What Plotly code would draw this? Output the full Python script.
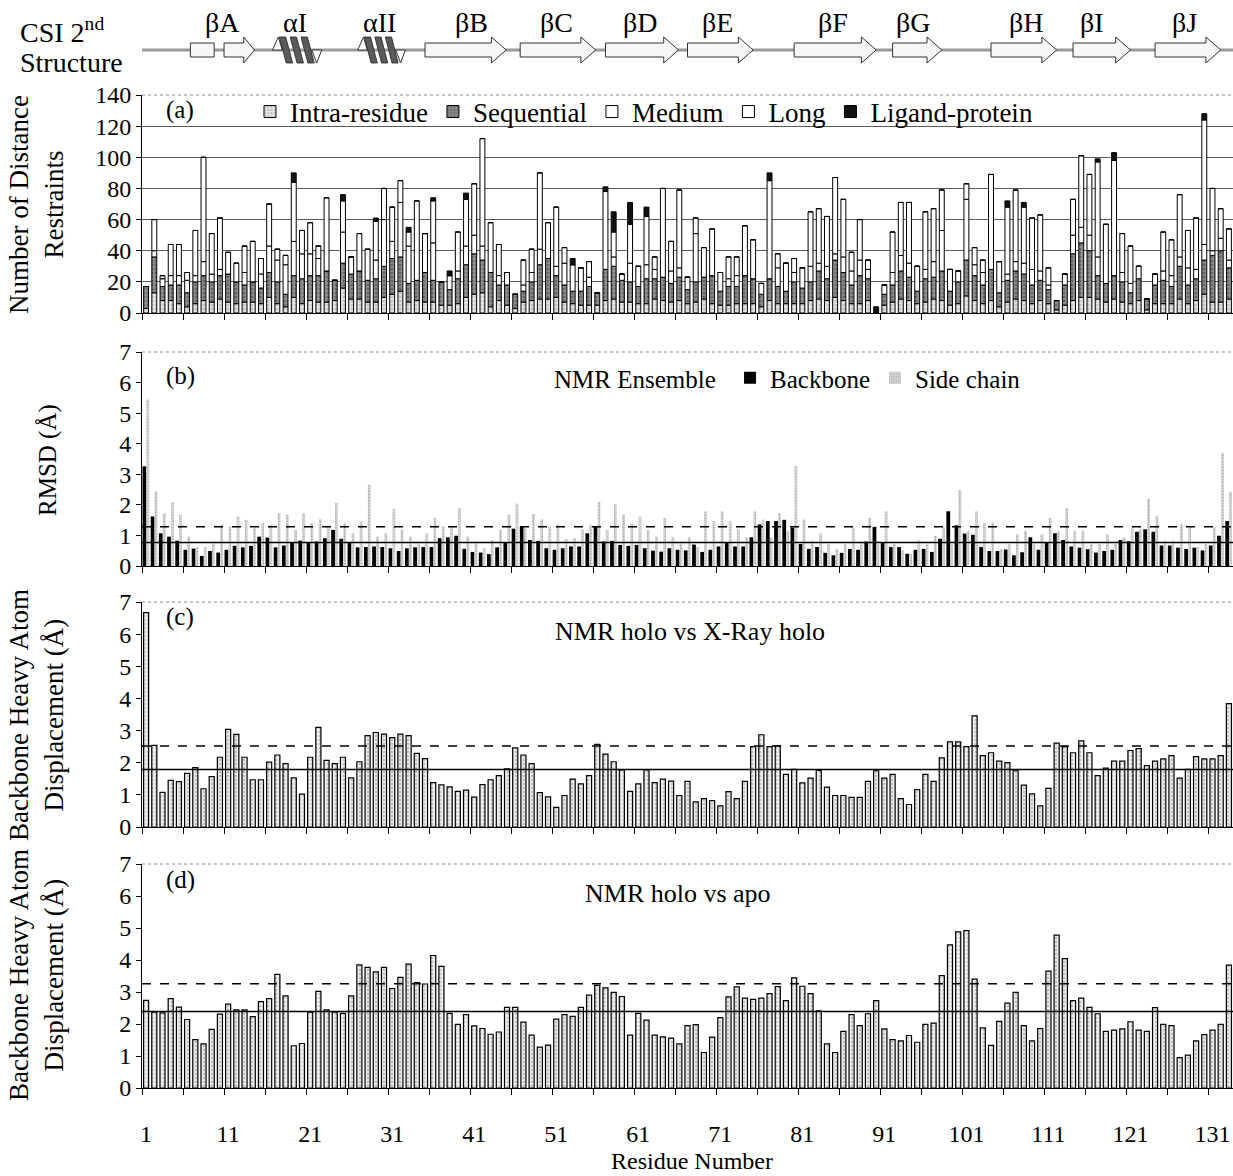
import numpy as np
import plotly.graph_objects as go

# ---------------- DATA ----------------
residues = list(range(1, 134))
tick_vals = [1, 11, 21, 31, 41, 51, 61, 71, 81, 91, 101, 111, 121, 131]

# (a) distance restraints per residue
intra = [3,13,8,8,6,4,6,8,7,9, 7,6,7,7,6,10,6,4,10,6, 8,7,7,8,16,9,9,7,7,10,
         12,14,7,8,7,7,5,5,6,10, 12,13,4,8,5,3,7,8,9,9, 10,7,6,5,5,5,8,9,7,7,
         6,6,9,8,7,8,6,7,9,6, 5,5,6,6,6,4,8,6,6,6, 6,8,9,8,10,8,6,6,8,0,
         5,7,9,8,6,7,9,8,5,6, 11,8,6,8,4,7,9,8,6,8, 6,2,5,8,10,10,9,7,9,7,
         6,8,2,6,6,6,9,6,8,12, 7,7,9]
sequential = [14,23,9,10,12,9,14,16,13,15, 18,14,11,13,10,16,14,8,14,16,
              16,17,20,13,16,16,18,14,15,20, 23,22,12,13,19,14,15,10,16,21,
              26,21,22,10,13,9,7,12,22,26, 14,11,8,9,12,8,20,21,14,13,
              11,16,13,15,12,15,9,13,14,18, 9,12,11,18,16,8,14,11,8,14,
              10,12,18,14,24,18,12,18,14,0, 7,11,18,15,8,15,14,19,9,14,
              23,16,12,20,9,14,18,17,12,13, 9,6,13,30,35,30,15,12,15,13,
              7,14,7,12,15,11,21,12,14,22, 30,33,20]
medium = [0,4,5,6,6,8,4,9,5,4, 0,0,8,0,9,17,14,19,22,16, 14,11,0,0,20,11,0,0,12,30,
          11,35,24,0,25,24,0,9,5,12, 12,9,0,6,8,0,4,6,10,0, 6,14,17,15,6,0,0,6,4,12,
          13,9,6,0,8,6,8,31,0,0, 12,5,7,0,0,7,0,12,18,6, 13,10,5,8,4,10,9,10,6,0,
          6,8,10,9,16,6,10,26,14,7, 39,7,8,0,20,4,6,7,10,6, 3,0,7,12,10,10,12,0,0,6,
          6,8,0,7,6,7,6,11,6,10, 3,8,5]
long_range = [0,20,2,20,20,5,29,67,26,33, 14,12,17,26,10,27,7,6,38,15, 20,8,47,0,20,0,24,20,25,20,
              22,14,9,51,0,27,0,0,25,30, 33,69,32,20,0,0,16,15,49,23, 38,10,0,0,10,0,50,16,0,25,
              0,31,8,57,19,50,0,10,19,30, 0,14,12,32,25,0,63,9,0,9, 0,35,35,32,49,37,12,26,6,0,
              0,26,34,39,0,37,34,26,0,0, 10,11,8,61,0,43,46,36,33,36, 11,0,0,23,46,39,61,38,74,25,
              24,0,0,0,25,23,40,24,33,80, 40,19,20]
ligand = [0,0,0,0,0,0,0,0,0,0, 0,0,0,0,0,0,0,0,6,0, 0,0,0,0,4,0,0,0,2,0,
          0,0,3,0,0,2,0,3,0,4, 0,0,0,0,0,0,0,0,0,0, 0,0,4,0,0,0,3,13,0,14,
          0,6,0,0,0,0,0,0,0,0, 0,0,0,0,0,0,5,0,0,0, 0,0,0,0,0,0,0,0,0,4,
          0,0,0,0,0,0,0,0,0,0, 0,0,0,0,0,4,0,3,0,0, 0,0,0,0,0,0,2,0,5,0,
          0,0,0,0,0,0,0,0,0,4, 0,0,0]

# (b) NMR ensemble RMSD (A)
rmsd_backbone = [3.26,1.62,1.07,0.96,0.83,0.53,0.57,0.33,0.49,0.44, 0.53,0.66,0.61,0.66,0.96,0.93,0.61,0.67,0.77,0.83,
                 0.78,0.80,0.91,1.18,0.89,0.77,0.61,0.62,0.64,0.62, 0.58,0.49,0.58,0.61,0.62,0.62,0.91,0.94,0.99,0.56,
                 0.46,0.44,0.39,0.61,0.78,1.22,1.29,0.85,0.82,0.58, 0.53,0.58,0.64,0.64,1.07,1.29,0.80,0.82,0.69,0.66,
                 0.69,0.58,0.50,0.47,0.58,0.53,
                 0.51,0.70,0.46,0.53,0.64,0.77,0.64,0.64,0.94,1.36, 1.47,1.47,1.51,1.26,0.72,0.56,0.62,0.43,0.35,0.43,
                 0.56,0.53,0.80,1.28,0.78,0.62,0.62,0.40,0.53,0.56, 0.46,0.89,1.79,1.33,1.06,1.02,0.62,0.49,0.49,0.54,
                 0.35,0.45,0.94,0.53,0.78,1.07,0.85,0.64,0.60,0.55, 0.44,0.49,0.53,0.85,0.81,1.12,1.20,1.12,0.67,0.67,
                 0.60,0.56,0.60,0.51,0.67,0.99,1.47]
rmsd_sidechain = [5.45,2.44,1.73,2.08,1.68,0.96,0.63,0.63,0.74,1.35, 1.29,1.62,1.51,1.24,1.40,1.35,1.73,1.68,1.18,1.73,
                  1.40,1.53,1.29,2.06,1.40,1.07,1.46,2.66,0.96,1.07, 1.86,1.18,0.96,0.74,1.07,1.57,1.29,1.29,1.90,0.96,
                  0.74,0.58,0.85,1.18,1.68,2.04,1.24,1.70,1.53,1.29, 1.35,0.88,0.91,1.18,1.35,2.10,1.18,2.03,1.68,1.40,
                  1.62,1.18,0.96,1.57,0.96,0.74,
                  0.94,0.62,1.79,1.47,1.79,1.47,1.20,0.94,1.79,1.52, 0.94,1.73,1.15,3.28,1.52,0.83,1.07,0.72,0.56,0.72,
                  1.26,0.78,1.57,0.72,1.79,0.72,0.51,0.40,0.85,0.72, 0.99,1.26,0.72,2.48,1.15,1.79,1.41,1.41,0.56,0.72,
                  1.04,1.15,0.72,1.04,1.57,1.15,1.89,1.15,1.15,0.72, 0.72,1.04,0.72,0.94,1.26,1.20,2.21,1.63,0.83,0.83,
                  1.36,1.26,0.62,0.72,1.26,3.70,2.43]
rmsd_mean, rmsd_upper = 0.77, 1.28

# (c) NMR holo vs X-ray holo (A)
holo_vs_xray = [6.67,2.54,1.08,1.45,1.41,1.67,1.85,1.19,1.57,2.17, 3.04,2.88,2.17,1.47,1.47,2.02,2.24,1.97,1.53,1.02,
                2.17,3.10,2.07,1.97,2.17,1.53,2.03,2.84,2.94,2.89, 2.78,2.89,2.84,2.29,2.13,1.38,1.31,1.25,1.11,1.15,
                0.93,1.32,1.47,1.60,1.81,2.46,2.24,1.97,1.07,0.94, 0.61,0.98,1.49,1.34,1.60,2.57,2.27,2.03,1.78,1.11,
                1.34,1.78,1.38,1.49,1.43,0.98,
                1.42,0.78,0.88,0.82,0.66,1.10,0.88,1.42,2.50,2.87, 2.50,2.53,1.64,1.79,1.37,1.52,1.76,1.24,0.98,0.98,
                0.92,0.92,1.42,1.75,1.52,1.64,0.88,0.70,1.16,1.64, 1.42,2.15,2.65,2.65,2.50,3.46,2.22,2.31,2.05,2.00,
                1.75,1.30,1.03,0.66,1.20,2.61,2.50,2.31,2.68,2.31, 1.60,1.83,2.05,2.05,2.38,2.44,1.91,2.05,2.12,2.22,
                1.52,1.79,2.19,2.12,2.12,2.22,3.84]
xray_mean, xray_upper = 1.79, 2.52

# (d) NMR holo vs apo (A)
holo_vs_apo = [2.74,2.37,2.35,2.79,2.53,2.14,1.51,1.38,1.83,2.31, 2.62,2.44,2.44,2.23,2.70,2.79,3.55,2.88,1.32,1.39,
               2.37,3.02,2.44,2.37,2.33,2.88,3.85,3.77,3.63,3.77, 3.11,3.46,3.87,3.29,3.25,4.14,3.80,2.33,1.99,2.29,
               1.94,1.86,1.68,1.75,2.52,2.52,2.06,1.65,1.28,1.34, 2.15,2.29,2.24,2.52,2.90,3.21,3.13,2.99,2.86,1.65,
               2.33,2.12,1.65,1.60,1.56,1.38,
               1.95,1.98,1.11,1.59,2.20,2.85,3.16,2.81,2.77,2.81, 2.95,3.17,2.73,3.44,3.18,2.95,2.41,1.38,1.11,1.77,
               2.29,1.95,2.32,2.73,1.85,1.51,1.47,1.64,1.43,1.99, 2.03,3.51,4.47,4.88,4.92,3.40,1.88,1.33,2.08,2.65,
               2.99,1.95,1.47,1.86,3.65,4.78,4.04,2.73,2.81,2.52, 2.32,1.77,1.81,1.85,2.07,1.81,1.77,2.51,1.99,1.95,
               0.95,1.03,1.47,1.67,1.81,1.99,3.84]
apo_mean, apo_upper = 2.39, 3.26

# CSI secondary structure elements (residue spans)
ss_kind = ["box", "strand", "helix", "helix", "strand", "strand", "strand", "strand",
           "strand", "strand", "strand", "strand", "strand"]
ss_start = [6.4, 10.5, 16.4, 26.8, 35.0, 46.6, 57.0, 67.0, 80.0, 92.0, 104.0, 114.0, 124.0]
ss_end = [9.3, 14.2, 22.4, 32.6, 44.9, 55.8, 65.9, 75.0, 90.0, 98.0, 112.0, 121.0, 132.0]
ss_labels = ["βA", "αI", "αII", "βB", "βC", "βD", "βE", "βF", "βG", "βH", "βI", "βJ"]
ss_label_pos = [10.3, 19.2, 29.4, 40.7, 51.0, 61.2, 70.6, 84.7, 94.5, 108.3, 116.3, 127.6]

for arr in (intra, sequential, medium, long_range, ligand, rmsd_backbone,
            rmsd_sidechain, holo_vs_xray, holo_vs_apo):
    assert len(arr) == len(residues), len(arr)

# ---------------- FIGURE ----------------
FONT = "Liberation Serif"
H_PLOT = 1088.0
L_MARGIN, W_PLOT = 142.0, 1091.0


def py(p):  # pixel row -> paper y
    return (H_PLOT - p) / H_PLOT


def px(p):  # pixel column -> paper x
    return (p - L_MARGIN) / W_PLOT


fig = go.Figure()

# (a) stacked restraints
stack_names = ["Intra-residue", "Sequential", "Medium", "Long", "Ligand-protein"]
stack_vals = [intra, sequential, medium, long_range, ligand]
stack_bg = ["#e2e2e2", "#8c8c8c", "white", "white", "#121212"]
stack_fg = ["#9a9a9a", "#3a3a3a", None, None, None]
base = np.zeros(len(residues))
for name, vals, bg, fg in zip(stack_names, stack_vals, stack_bg, stack_fg):
    vals = np.array(vals, dtype=float)
    marker = dict(color=bg, line=dict(color="black", width=1))
    if fg:
        marker["pattern"] = dict(shape=".", fgcolor=fg, size=4, solidity=0.3)
    fig.add_trace(go.Bar(x=residues, y=vals, base=base.copy(), name=name, marker=marker,
                         width=0.6, xaxis="x", yaxis="y", legend="legend"))
    base = base + vals

# (b) RMSD
fig.add_trace(go.Bar(x=residues, y=rmsd_backbone, name="Backbone",
                     marker=dict(color="black", line=dict(width=0)),
                     width=0.46, offset=-0.44, xaxis="x2", yaxis="y2", legend="legend2"))
fig.add_trace(go.Bar(x=residues, y=rmsd_sidechain, name="Side chain",
                     marker=dict(color="#d6d6d6", line=dict(width=0),
                                 pattern=dict(shape=".", fgcolor="#8a8a8a", size=3, solidity=0.35)),
                     width=0.34, offset=0.04, xaxis="x2", yaxis="y2", legend="legend2"))

# (c), (d)
for vals, xa, ya in [(holo_vs_xray, "x3", "y3"), (holo_vs_apo, "x4", "y4")]:
    fig.add_trace(go.Bar(x=residues, y=vals, showlegend=False,
                         marker=dict(color="#ececec", line=dict(color="black", width=1.2),
                                     pattern=dict(shape=".", fgcolor="#8c8c8c", size=4, solidity=0.3)),
                         width=0.62, xaxis=xa, yaxis=ya))

tickfont = dict(family=FONT, size=24, color="black")
xcommon = dict(range=[0.5, 133.5], showline=True, linecolor="black", linewidth=1,
               ticks="", tickvals=tick_vals, ticktext=[str(v) for v in tick_vals],
               showgrid=False, zeroline=False, tickfont=tickfont, automargin=False,
               minor=dict(ticks="outside", tick0=0.5, dtick=5, ticklen=6,
                          tickcolor="black", showgrid=False))
ycommon = dict(showline=True, linecolor="black", linewidth=1, ticks="outside", ticklen=5,
               tickcolor="black", tickfont=tickfont, zeroline=False, showgrid=False,
               automargin=False)

domains = {"a": [py(313), py(95)], "b": [py(566), py(352)],
           "c": [py(827), py(602)], "d": [0.0, py(864)]}

fig.update_layout(
    width=1233, height=1176,
    margin=dict(l=142, r=0, t=0, b=88, autoexpand=False),
    paper_bgcolor="white", plot_bgcolor="white",
    barmode="overlay",
    font=dict(family=FONT, color="black", size=22),
    xaxis=dict(**xcommon, anchor="y", showticklabels=False),
    xaxis2=dict(**xcommon, anchor="y2", matches="x", showticklabels=False),
    xaxis3=dict(**xcommon, anchor="y3", matches="x", showticklabels=False),
    xaxis4=dict(**xcommon, anchor="y4", matches="x", showticklabels=True, ticklabelstandoff=24),
    yaxis=dict(**{**ycommon, "showgrid": True}, domain=domains["a"], range=[0, 140], dtick=20,
               gridcolor="#5a5a5a", gridwidth=1, anchor="x"),
    yaxis2=dict(**ycommon, domain=domains["b"], range=[0, 7], dtick=1, anchor="x2"),
    yaxis3=dict(**ycommon, domain=domains["c"], range=[0, 7], dtick=1, anchor="x3"),
    yaxis4=dict(**ycommon, domain=domains["d"], range=[0, 7], dtick=1, anchor="x4"),
    legend=dict(orientation="h", x=px(250), y=py(112), xanchor="left", yanchor="middle",
                font=dict(family=FONT, size=27), bgcolor="rgba(0,0,0,0)",
                traceorder="normal", itemwidth=30),
    legend2=dict(orientation="h", x=px(552), y=py(378), xanchor="left", yanchor="middle",
                 font=dict(family=FONT, size=25), bgcolor="rgba(0,0,0,0)",
                 title=dict(text="NMR Ensemble ", side="left", font=dict(family=FONT, size=25)),
                 traceorder="normal", itemwidth=30),
)

# reference lines (mean, mean+SD)
for xr, yr, mean, upper in [("x2", "y2", rmsd_mean, rmsd_upper),
                            ("x3", "y3", xray_mean, xray_upper),
                            ("x4", "y4", apo_mean, apo_upper)]:
    fig.add_shape(type="line", xref=f"{xr} domain", yref=yr, x0=0, x1=1, y0=mean, y1=mean,
                  line=dict(color="black", width=1.5))
    fig.add_shape(type="line", xref=f"{xr} domain", yref=yr, x0=0, x1=1, y0=upper, y1=upper,
                  line=dict(color="black", width=1.5, dash="dash"))

# dotted top borders
for xr, yr in [("x", "y"), ("x2", "y2"), ("x3", "y3"), ("x4", "y4")]:
    fig.add_shape(type="line", xref=f"{xr} domain", yref=f"{yr} domain", x0=0, x1=1, y0=1, y1=1,
                  line=dict(color="#8a8a8a", width=1, dash="dot"))

# secondary structure diagram
yc = py(50)
yb = 7 / H_PLOT
yh = 13 / H_PLOT
fig.add_shape(type="line", xref="x", yref="paper", x0=0, x1=133.5, y0=yc, y1=yc,
              line=dict(color="#9a9a9a", width=3), layer="above")
for kind, s, e in zip(ss_kind, ss_start, ss_end):
    if kind == "box":
        fig.add_shape(type="rect", xref="x", yref="paper", x0=s, x1=e, y0=yc - yb, y1=yc + yb,
                      fillcolor="#f6f6f6", line=dict(color="#333", width=1), layer="above")
    elif kind == "strand":
        hl = min(1.8, 0.35 * (e - s))
        hx = e - hl
        path = (f"M {s},{yc - yb} L {hx},{yc - yb} L {hx},{yc - yh} L {e},{yc} "
                f"L {hx},{yc + yh} L {hx},{yc + yb} L {s},{yc + yb} Z")
        fig.add_shape(type="path", xref="x", yref="paper", path=path,
                      fillcolor="#f6f6f6", line=dict(color="#333", width=1), layer="above")
    else:
        w = e - s
        top, bot = yc + yh, yc - yh
        fig.add_shape(type="path", xref="x", yref="paper",
                      path=f"M {s},{yc} L {s + 0.12 * w},{top} L {s + 0.2 * w},{yc} Z",
                      fillcolor="white", line=dict(color="#333", width=1), layer="above")
        fig.add_shape(type="path", xref="x", yref="paper",
                      path=f"M {e - 0.2 * w},{yc} L {e - 0.1 * w},{bot} L {e},{yc} Z",
                      fillcolor="white", line=dict(color="#333", width=1), layer="above")
        for i in range(3):
            x0 = s + 0.14 * w + i * 0.22 * w
            path = (f"M {x0},{top} L {x0 + 0.13 * w},{top} L {x0 + 0.27 * w},{bot} "
                    f"L {x0 + 0.14 * w},{bot} Z")
            fig.add_shape(type="path", xref="x", yref="paper", path=path,
                          fillcolor="#5a5a5a", line=dict(color="#222", width=0.8), layer="above")

for lab, pos in zip(ss_labels, ss_label_pos):
    fig.add_annotation(x=pos, y=py(22), xref="x", yref="paper", text=lab, showarrow=False,
                       font=dict(family=FONT, size=28), xanchor="center", yanchor="middle")


def ann(text, x, y, size=22, angle=0, xanchor="center"):
    fig.add_annotation(text=text, x=x, y=y, xref="paper", yref="paper", showarrow=False,
                       font=dict(family=FONT, size=size, color="black"), textangle=angle,
                       xanchor=xanchor, yanchor="middle")


ann("CSI 2<sup>nd</sup>", px(18), py(30), size=28, xanchor="left")
ann("Structure", px(18), py(62), size=28, xanchor="left")
ann("(a)", px(180), py(110), size=25)
ann("(b)", px(180), py(376), size=25)
ann("(c)", px(180), py(617), size=25)
ann("(d)", px(180), py(880), size=25)
ann("NMR holo vs X-Ray holo", px(690), py(632), size=26)
ann("NMR holo vs apo", px(678), py(893), size=26)
ann("Residue Number", px(692), py(1161), size=24)
ann("Number of Distance<br>Restraints", px(36), py(205), size=27, angle=-90)
ann("RMSD (Å)", px(48), py(460), size=25, angle=-90)
ann("Backbone Heavy Atom<br>Displacement (Å)", px(36), py(715), size=27, angle=-90)
ann("Backbone Heavy Atom<br>Displacement (Å)", px(36), py(975), size=27, angle=-90)

fig.write_html("out.html", config={"displayModeBar": False},
               post_script="document.body.style.margin='0px';")
